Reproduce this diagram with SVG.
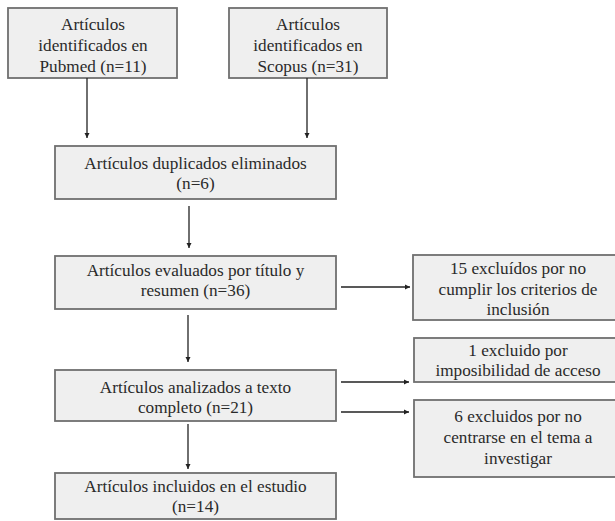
<svg xmlns="http://www.w3.org/2000/svg" width="615" height="521" viewBox="0 0 615 521">
<defs>
<marker id="ah" markerWidth="6" markerHeight="6" refX="5" refY="3" orient="auto" markerUnits="userSpaceOnUse">
<path d="M0,0.5 L5,3 L0,5.5 Z" fill="#222"/>
</marker>
<style>
.box{fill:#efefef;stroke:#6f6f6f;stroke-width:1.8}
.t{font-family:"Liberation Serif","Times New Roman",serif;font-size:17.2px;fill:#2a2a2a;text-anchor:middle}
.c{stroke:#222;stroke-width:1.3;fill:none;marker-end:url(#ah)}
</style>
</defs>
<rect width="615" height="521" fill="#fff"/>
<g id="pubmed">
<rect class="box" x="8" y="8" width="169" height="70"/>
<text class="t" x="93" y="30">Artículos</text>
<text class="t" x="93" y="51">identificados en</text>
<text class="t" x="93" y="72">Pubmed (n=11)</text>
</g>
<g id="scopus">
<rect class="box" x="229" y="8" width="158" height="70"/>
<text class="t" x="308" y="30">Artículos</text>
<text class="t" x="308" y="51">identificados en</text>
<text class="t" x="308" y="72">Scopus (n=31)</text>
</g>
<g id="duplicados">
<rect class="box" x="55" y="146" width="281" height="53"/>
<text class="t" x="195.5" y="169">Artículos duplicados eliminados</text>
<text class="t" x="195.5" y="189">(n=6)</text>
</g>
<g id="evaluados">
<rect class="box" x="55" y="256" width="281" height="53"/>
<text class="t" x="195.5" y="276">Artículos evaluados por título y</text>
<text class="t" x="195.5" y="296">resumen (n=36)</text>
</g>
<g id="excluidos15">
<rect class="box" x="413" y="255" width="210" height="65"/>
<text class="t" x="518" y="274">15 excluídos por no</text>
<text class="t" x="518" y="295">cumplir los criterios de</text>
<text class="t" x="518" y="315">inclusión</text>
</g>
<g id="analizados">
<rect class="box" x="55" y="370" width="281" height="51"/>
<text class="t" x="195.5" y="393">Artículos analizados a texto</text>
<text class="t" x="195.5" y="413">completo (n=21)</text>
</g>
<g id="excluido1">
<rect class="box" x="414" y="338" width="210" height="44"/>
<text class="t" x="518" y="356">1 excluido por</text>
<text class="t" x="518" y="376">imposibilidad de acceso</text>
</g>
<g id="excluidos6">
<rect class="box" x="414" y="400" width="210" height="77"/>
<text class="t" x="518" y="422">6 excluidos por no</text>
<text class="t" x="518" y="443">centrarse en el tema a</text>
<text class="t" x="518" y="464">investigar</text>
</g>
<g id="incluidos">
<rect class="box" x="55" y="473" width="281" height="46"/>
<text class="t" x="195.5" y="492">Artículos incluidos en el estudio</text>
<text class="t" x="195.5" y="512">(n=14)</text>
</g>
<g id="connectors">
<line class="c" x1="87" y1="78" x2="87" y2="138"/>
<line class="c" x1="307" y1="78" x2="307" y2="138"/>
<line class="c" x1="189" y1="206" x2="189" y2="248"/>
<line class="c" x1="341" y1="287" x2="410" y2="287"/>
<line class="c" x1="188" y1="315" x2="188" y2="362"/>
<line class="c" x1="341" y1="382" x2="409" y2="382"/>
<line class="c" x1="341" y1="412" x2="409" y2="412"/>
<line class="c" x1="188" y1="424" x2="188" y2="469"/>
</g>
</svg>
